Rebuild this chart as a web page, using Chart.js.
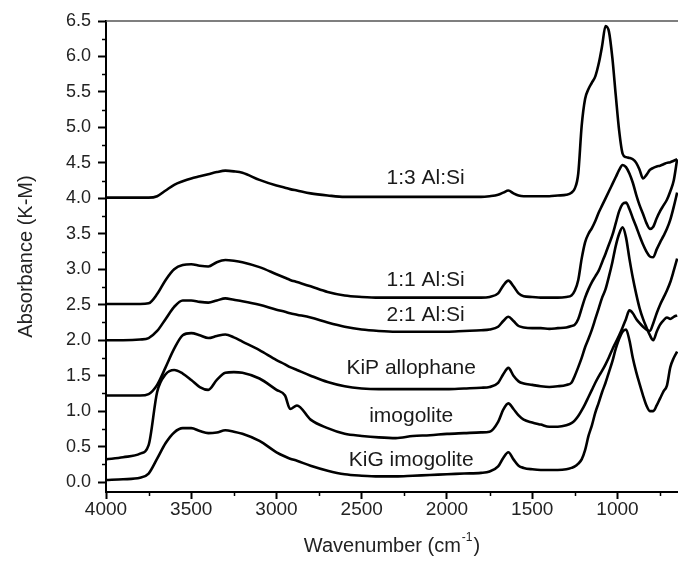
<!DOCTYPE html>
<html lang="en">
<head>
  <meta charset="UTF-8" />
  <title>K-M Absorbance Spectra</title>
  <script src="https://cdn.jsdelivr.net/npm/chart.js"></script>
  <style>
    html, body { margin: 0; padding: 0; background: #fff; }
    .chart-box { width: 678px; height: 561px; }
  </style>
</head>
<body>
<div class="chart-box"><canvas id="spectraChart"></canvas></div>

<script>
  // shared wavenumber grid (cm-1), high to low
  const wavenumbers = [
    4000, 3900, 3800, 3750, 3700, 3650, 3600, 3550, 3500, 3450, 3400, 3350, 3300, 3250, 3200,
    3100, 3000, 2950, 2920, 2880, 2800, 2700, 2600, 2500, 2400, 2300, 2200, 2100, 2000,
    1900, 1800, 1750, 1700, 1670, 1640, 1610, 1580, 1550, 1500, 1450, 1400, 1350, 1300,
    1270, 1250, 1230, 1210, 1190, 1170, 1150, 1130, 1110, 1090, 1070, 1050, 1030, 1010,
    990, 970, 950, 930, 910, 890, 870, 850, 830, 810, 790, 770, 750, 730, 710, 690, 670, 650
  ];

  const ab13 = [
    4.01, 4.01, 4.01, 4.01, 4.03, 4.11, 4.19, 4.24, 4.28, 4.31, 4.34, 4.37, 4.39, 4.38, 4.36,
    4.26, 4.18, 4.15, 4.13, 4.11, 4.07, 4.04, 4.02, 4.02, 4.02, 4.02, 4.02, 4.02, 4.02,
    4.02, 4.02, 4.03, 4.05, 4.08, 4.11, 4.07, 4.04, 4.03, 4.03, 4.03, 4.03, 4.04, 4.05,
    4.08, 4.14, 4.35, 5.02, 5.40, 5.54, 5.63, 5.72, 5.90, 6.15, 6.43, 6.35, 5.98, 5.45,
    4.95, 4.63, 4.58, 4.57, 4.55, 4.50, 4.40, 4.28, 4.33, 4.40, 4.43, 4.45, 4.46, 4.48, 4.50, 4.51, 4.53, 4.55
  ];

  const ab11 = [
    2.51, 2.51, 2.51, 2.52, 2.65, 2.85, 3.00, 3.06, 3.07, 3.05, 3.04, 3.10, 3.13, 3.12, 3.10,
    3.03, 2.93, 2.88, 2.85, 2.82, 2.76, 2.68, 2.63, 2.61, 2.60, 2.60, 2.60, 2.60, 2.60,
    2.60, 2.60, 2.61, 2.66, 2.77, 2.84, 2.76, 2.66, 2.62, 2.61, 2.60, 2.60, 2.60, 2.61,
    2.63, 2.70, 2.85, 3.15, 3.38, 3.50, 3.58, 3.68, 3.80, 3.90, 4.00, 4.10, 4.20, 4.30,
    4.40, 4.47, 4.44, 4.35, 4.22, 4.05, 3.90, 3.78, 3.65, 3.57, 3.60, 3.72, 3.82, 3.90, 3.98, 4.10, 4.25, 4.55
  ];

  const ab21 = [
    2.00, 2.00, 2.01, 2.03, 2.13, 2.30, 2.47, 2.56, 2.56, 2.54, 2.53, 2.56, 2.59, 2.57, 2.55,
    2.50, 2.43, 2.40, 2.38, 2.36, 2.32, 2.25, 2.19, 2.15, 2.13, 2.12, 2.12, 2.12, 2.12,
    2.13, 2.14, 2.15, 2.19, 2.27, 2.33, 2.27, 2.20, 2.18, 2.17, 2.17, 2.16, 2.17, 2.18,
    2.20, 2.22, 2.30, 2.45, 2.60, 2.72, 2.82, 2.90, 2.98, 3.10, 3.22, 3.35, 3.48, 3.65,
    3.82, 3.92, 3.94, 3.85, 3.72, 3.60, 3.47, 3.35, 3.25, 3.18, 3.17, 3.28, 3.38, 3.47, 3.57, 3.70, 3.88, 4.08
  ];

  const abKiP = [
    1.22, 1.22, 1.22, 1.24, 1.37, 1.62, 1.88, 2.07, 2.10, 2.07, 2.03, 2.06, 2.08, 2.04, 1.98,
    1.86, 1.72, 1.66, 1.62, 1.58, 1.50, 1.41, 1.35, 1.32, 1.31, 1.31, 1.31, 1.31, 1.31,
    1.32, 1.33, 1.34, 1.40, 1.52, 1.61, 1.50, 1.42, 1.39, 1.37, 1.35, 1.34, 1.35, 1.37,
    1.40, 1.50, 1.62, 1.75, 1.90, 2.02, 2.15, 2.30, 2.45, 2.60, 2.72, 2.90, 3.10, 3.33,
    3.50, 3.59, 3.45, 3.15, 2.88, 2.65, 2.45, 2.30, 2.18, 2.07, 2.00, 2.12, 2.22, 2.28, 2.32, 2.30, 2.33, 2.35
  ];

  const abImo = [
    0.32, 0.35, 0.40, 0.52, 1.27, 1.52, 1.58, 1.53, 1.44, 1.34, 1.30, 1.44, 1.54, 1.55, 1.54,
    1.46, 1.30, 1.22, 1.03, 1.08, 0.88, 0.76, 0.68, 0.65, 0.63, 0.62, 0.65, 0.66, 0.68,
    0.69, 0.70, 0.71, 0.85, 1.02, 1.11, 1.03, 0.94, 0.88, 0.84, 0.81, 0.78, 0.78, 0.80,
    0.83, 0.87, 0.93, 1.01, 1.10, 1.20, 1.30, 1.40, 1.49, 1.57, 1.66, 1.76, 1.87, 1.97,
    2.07, 2.18, 2.30, 2.42, 2.38, 2.30, 2.24, 2.19, 2.15, 2.13, 2.24, 2.38, 2.50, 2.60, 2.70, 2.82, 2.98, 3.15
  ];

  const abKiG = [
    0.03, 0.04, 0.06, 0.12, 0.33, 0.55, 0.70, 0.76, 0.76, 0.72, 0.69, 0.70, 0.73, 0.71, 0.68,
    0.58, 0.42, 0.36, 0.33, 0.30, 0.23, 0.16, 0.11, 0.09, 0.08, 0.08, 0.09, 0.10, 0.11,
    0.12, 0.13, 0.15, 0.22, 0.34, 0.42, 0.32, 0.23, 0.20, 0.18, 0.17, 0.17, 0.17, 0.18,
    0.20, 0.22, 0.26, 0.32, 0.45, 0.65, 0.80, 0.98, 1.12, 1.27, 1.40, 1.55, 1.70, 1.88,
    2.02, 2.12, 2.15, 2.00, 1.75, 1.55, 1.38, 1.22, 1.08, 1.00, 1.00, 1.08, 1.18, 1.28, 1.36, 1.62, 1.75, 1.84
  ];

  const sampleNames = ["1:3 Al:Si", "1:1 Al:Si", "2:1 Al:Si", "KiP allophane", "imogolite", "KiG imogolite"];
  const sampleSeries = [ab13, ab11, ab21, abKiP, abImo, abKiG];

  // where each sample name sits (wavenumber, absorbance)
  const labelWn = [2125, 2125, 2125, 2210, 2210, 2210];
  const labelAb = [4.28, 2.84, 2.35, 1.61, 0.93, 0.31];

  const xTicks = [4000, 3500, 3000, 2500, 2000, 1500, 1000];
  const xMinor = [3750, 3250, 2750, 2250, 1750, 1250, 750];
  const yTicks = [0, 0.5, 1, 1.5, 2, 2.5, 3, 3.5, 4, 4.5, 5, 5.5, 6, 6.5];
  const yMinor = [0.25, 0.75, 1.25, 1.75, 2.25, 2.75, 3.25, 3.75, 4.25, 4.75, 5.25, 5.75, 6.25];

  const FONT = '"Liberation Sans", Arial, sans-serif';

  const datasets = sampleSeries.map((vals, i) => ({
    label: sampleNames[i],
    data: wavenumbers.map((w, k) => ({ x: w, y: vals[k] })),
    borderColor: "#000",
    borderWidth: 2.6,
    pointRadius: 0,
    cubicInterpolationMode: "monotone",
    fill: false
  }));

  // frame top, minor ticks, curve names, x title with superscript
  const decorations = {
    id: "decorations",
    afterDraw(chart) {
      const { ctx, chartArea, scales: { x, y } } = chart;
      ctx.save();

      ctx.strokeStyle = "#555";
      ctx.lineWidth = 1.5;
      ctx.beginPath();
      ctx.moveTo(chartArea.left, chartArea.top);
      ctx.lineTo(chartArea.right, chartArea.top);
      ctx.stroke();

      ctx.strokeStyle = "#000";
      ctx.lineWidth = 1.5;
      xMinor.forEach(v => {
        const px = Math.round(x.getPixelForValue(v)) + 0.5;
        ctx.beginPath();
        ctx.moveTo(px, chartArea.bottom);
        ctx.lineTo(px, chartArea.bottom + 4);
        ctx.stroke();
      });
      yMinor.forEach(v => {
        const py = Math.round(y.getPixelForValue(v)) + 0.5;
        ctx.beginPath();
        ctx.moveTo(chartArea.left - 4, py);
        ctx.lineTo(chartArea.left, py);
        ctx.stroke();
      });

      ctx.fillStyle = "#1a1a1a";
      ctx.font = "21px " + FONT;
      ctx.textAlign = "center";
      ctx.textBaseline = "middle";
      sampleNames.forEach((name, i) => {
        ctx.fillText(name, x.getPixelForValue(labelWn[i]), y.getPixelForValue(labelAb[i]));
      });

      // x axis title
      const main = "Wavenumber (cm";
      const sup = "-1";
      const tail = ")";
      ctx.font = "20px " + FONT;
      const wMain = ctx.measureText(main).width;
      const wTail = ctx.measureText(tail).width;
      ctx.font = "12px " + FONT;
      const wSup = ctx.measureText(sup).width;
      const cx = (chartArea.left + chartArea.right) / 2;
      let tx = cx - (wMain + wSup + wTail + 2) / 2;
      const ty = 546;
      ctx.textAlign = "left";
      ctx.fillStyle = "#222";
      ctx.font = "20px " + FONT;
      ctx.fillText(main, tx, ty);
      tx += wMain + 1;
      ctx.font = "12px " + FONT;
      ctx.fillText(sup, tx, ty - 8);
      tx += wSup + 1;
      ctx.font = "20px " + FONT;
      ctx.fillText(tail, tx, ty);

      ctx.restore();
    }
  };

  const ctx = document.getElementById("spectraChart").getContext("2d");
  new Chart(ctx, {
    type: "line",
    data: { datasets: datasets },
    options: {
      responsive: true,
      maintainAspectRatio: false,
      animation: false,
      layout: { padding: { top: 21, right: 0, left: 0, bottom: 0 } },
      plugins: {
        legend: { display: false },
        tooltip: { enabled: false }
      },
      scales: {
        x: {
          type: "linear",
          reverse: true,
          min: 645,
          max: 4000,
          afterBuildTicks: s => { s.ticks = xTicks.map(v => ({ value: v })); },
          afterFit: s => { s.height = 69; s.paddingLeft = 0; s.paddingRight = 0; },
          border: { display: true, color: "#000", width: 2 },
          grid: { display: true, drawOnChartArea: false, drawTicks: true, tickLength: 7, tickWidth: 2, tickColor: "#000" },
          ticks: {
            color: "#222",
            padding: -1,
            maxRotation: 0,
            font: { family: FONT, size: 19 },
            callback: v => String(v)
          },
          title: { display: false }
        },
        y: {
          min: -0.14,
          max: 6.5,
          afterBuildTicks: s => { s.ticks = yTicks.map(v => ({ value: v })); },
          afterFit: s => { s.width = 106; s.paddingTop = 0; s.paddingBottom = 0; },
          border: { display: true, color: "#000", width: 2 },
          grid: { display: true, drawOnChartArea: false, drawTicks: true, tickLength: 8, tickWidth: 2, tickColor: "#000" },
          ticks: {
            color: "#222",
            padding: 7,
            font: { family: FONT, size: 18 },
            callback: v => Number(v).toFixed(1)
          },
          title: {
            display: true,
            text: "Absorbance (K-M)",
            color: "#222",
            font: { family: FONT, size: 20 },
            padding: { top: 14, bottom: 0 }
          }
        }
      }
    },
    plugins: [decorations]
  });
</script>
</body>
</html>
